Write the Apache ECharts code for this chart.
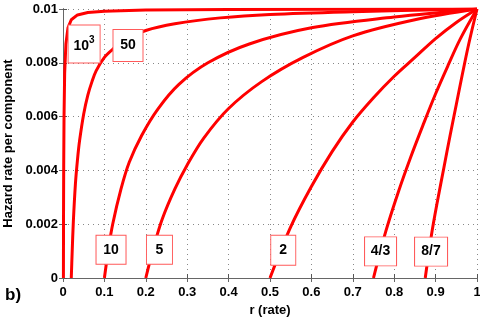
<!DOCTYPE html>
<html>
<head>
<meta charset="utf-8">
<script src="https://cdn.jsdelivr.net/npm/echarts@6/dist/echarts.min.js"></script>
<style>
  html, body { margin: 0; padding: 0; background: #fff; }
  #main { width: 480px; height: 322px; }
</style>
</head>
<body>
<div id="main"></div>
<script>
// curves, one per n (r values and hazard rate)
const r1000 = [0.001, 0.0013, 0.0017, 0.0025, 0.004, 0.007, 0.012, 0.02, 0.035, 0.06, 0.1, 0.2, 0.4, 0.7, 1];
const h1000 = [0, 0.0025, 0.0042, 0.006, 0.0076, 0.0087, 0.0093, 0.0096, 0.00978, 0.00987, 0.00992, 0.00996, 0.00998, 0.00999, 0.01];
const r50 = [0.02, 0.022, 0.025, 0.03, 0.035, 0.04, 0.05, 0.06, 0.07, 0.08, 0.1, 0.12, 0.15, 0.2, 0.27, 0.38, 0.5, 0.7, 1];
const h50 = [0, 0.0009, 0.0021, 0.0035, 0.0044, 0.0051, 0.0061, 0.0068, 0.0073, 0.0077, 0.0082, 0.0085, 0.00885, 0.0092, 0.00945, 0.00967, 0.0098, 0.0099, 0.01];
const r10 = [0.1, 0.11, 0.12, 0.14, 0.16, 0.19, 0.23, 0.28, 0.35, 0.45, 0.6, 0.8, 1];
const h10 = [0, 0.0011, 0.002, 0.0033, 0.0043, 0.0053, 0.0063, 0.0072, 0.008, 0.0087, 0.0093, 0.0097, 0.01];
const r5 = [0.2, 0.22, 0.24, 0.27, 0.3, 0.34, 0.4, 0.48, 0.58, 0.7, 0.85, 1];
const h5 = [0, 0.0012, 0.0022, 0.0033, 0.0042, 0.0052, 0.0063, 0.0073, 0.0082, 0.009, 0.0096, 0.01];
const r2 = [0.5, 0.55, 0.6, 0.65, 0.7, 0.75, 0.8, 0.85, 0.9, 0.95, 1];
const h2 = [0, 0.0019, 0.0034, 0.0047, 0.0058, 0.0067, 0.0075, 0.0082, 0.0089, 0.0095, 0.01];
const r43 = [0.75, 0.78, 0.81, 0.84, 0.87, 0.9, 0.93, 0.96, 1];
const h43 = [0, 0.00175, 0.0032, 0.0045, 0.0057, 0.00685, 0.0079, 0.0089, 0.01];
const r87 = [0.875, 0.89, 0.905, 0.92, 0.935, 0.95, 0.965, 0.98, 1];
const h87 = [0, 0.0016, 0.0029, 0.0041, 0.0053, 0.00645, 0.0076, 0.0087, 0.01];

// curve labels and where they sit (data coords)
const labelNames = ["{b|10}{s|3}", "50", "10", "5", "2", "4/3", "8/7"];
const labelR = [0.051, 0.157, 0.116, 0.233, 0.532, 0.767, 0.889];
const labelH = [0.0087, 0.00864, 0.00105, 0.00105, 0.00103, 0.00099, 0.00098];
const boxSize = [[32, 38], [30, 32], [30, 29], [26, 29], [25, 30], [32, 29], [33, 29]];

const xTicks = ["0", "0.1", "0.2", "0.3", "0.4", "0.5", "0.6", "0.7", "0.8", "0.9", "1"];
const yTicks = ["0", "0.002", "0.004", "0.006", "0.008", "0.01"];

const FONT = "Liberation Sans, Arial, sans-serif";
const curves = [[r1000, h1000], [r50, h50], [r10, h10], [r5, h5], [r2, h2], [r43, h43], [r87, h87]];

const lineSeries = curves.map(([rs, hs], idx) => ({
  type: "line",
  data: rs.map((r, i) => [r, hs[i]]),
  // the 10^3 curve is almost vertical at first, keep it unsmoothed
  smooth: idx === 0 ? false : 0.35,
  showSymbol: false,
  lineStyle: { color: "#ff0000", width: 3 },
  z: 3
}));

const labelSeries = {
  type: "scatter",
  symbol: "rect",
  z: 5,
  data: labelNames.map((n, i) => ({
    value: [labelR[i], labelH[i]],
    symbolSize: boxSize[i],
    name: n
  })),
  itemStyle: { color: "#fff", borderColor: "#ff5a5a", borderWidth: 1, opacity: 1 },
  label: {
    show: true,
    position: "inside",
    formatter: (p) => p.name,
    color: "#000",
    fontFamily: FONT,
    fontWeight: "bold",
    fontSize: 14,
    rich: {
      b: { fontFamily: FONT, fontWeight: "bold", fontSize: 14, color: "#000", verticalAlign: "bottom" },
      s: { fontFamily: FONT, fontWeight: "bold", fontSize: 10, color: "#000", padding: [0, 0, 8, 0] }
    }
  },
  emphasis: { disabled: true }
};

const myChart = echarts.init(document.getElementById("main"), null, { renderer: "canvas" });

const option = {
  animation: false,
  grid: { left: 63, right: 3, top: 9, bottom: 44, containLabel: false, outerBoundsMode: "none" },
  xAxis: [
    {
      type: "value",
      min: 0,
      max: 1,
      interval: 0.1,
      name: "r (rate)",
      nameLocation: "middle",
      nameGap: 25,
      nameTextStyle: { fontFamily: FONT, fontWeight: "bold", fontSize: 13, color: "#000" },
      axisLine: { lineStyle: { color: "#000", width: 1 } },
      axisTick: { inside: true, length: 4, lineStyle: { color: "#555" } },
      axisLabel: {
        margin: 8,
        color: "#000",
        fontFamily: FONT,
        fontWeight: "bold",
        fontSize: 13,
        formatter: (v) => xTicks[Math.round(v * 10)]
      },
      splitLine: { show: true, lineStyle: { color: "#888", type: [1, 4], width: 1 } }
    },
    {
      type: "value",
      position: "top",
      min: 0,
      max: 1,
      interval: 0.1,
      axisLine: { show: true, lineStyle: { color: "#666" } },
      axisTick: { inside: true, length: 4, lineStyle: { color: "#666" } },
      axisLabel: { show: false },
      splitLine: { show: false }
    }
  ],
  yAxis: [
    {
      type: "value",
      min: 0,
      max: 0.01,
      interval: 0.002,
      name: "Hazard rate per component",
      nameLocation: "middle",
      nameGap: 48,
      nameTextStyle: { fontFamily: FONT, fontWeight: "bold", fontSize: 13, color: "#000" },
      axisLine: { show: true, lineStyle: { color: "#000", width: 1 } },
      axisTick: { show: true, inside: true, length: 4, lineStyle: { color: "#555" } },
      axisLabel: {
        margin: 5,
        color: "#000",
        fontFamily: FONT,
        fontWeight: "bold",
        fontSize: 13,
        formatter: (v) => yTicks[Math.round(v / 0.002)]
      },
      splitLine: { show: true, lineStyle: { color: "#888", type: [1, 4], width: 1 } }
    },
    {
      type: "value",
      position: "right",
      min: 0,
      max: 0.01,
      interval: 0.002,
      axisLine: { show: true, lineStyle: { color: "#666" } },
      axisTick: { show: true, inside: true, length: 4, lineStyle: { color: "#666" } },
      axisLabel: { show: false },
      splitLine: { show: false }
    }
  ],
  graphic: [
    {
      type: "text",
      left: 5,
      top: 287,
      style: { text: "b)", fontFamily: FONT, fontWeight: "bold", fontSize: 17, fill: "#000" }
    }
  ],
  series: [...lineSeries, labelSeries]
};

myChart.setOption(option);
</script>
</body>
</html>
